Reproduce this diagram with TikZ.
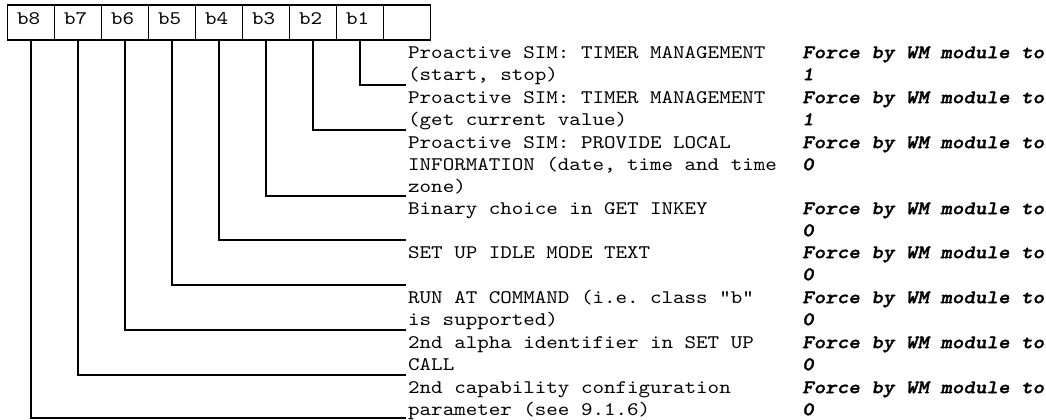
\documentclass[tikz,border=0pt]{standalone}
\usepackage{fontspec}
\setmonofont{lmmono10-regular.otf}[BoldFont=lmmonolt10-bold.otf,BoldItalicFont=lmmonolt10-boldoblique.otf,ItalicFont=lmmono10-italic.otf,BoldItalicFeatures={FakeBold=1.5},FakeStretch=1.143]
\newcommand\ascstrut{\rule{0pt}{18pt}}
\begin{document}
\begin{tikzpicture}[x=1pt,y=-1pt,
  every node/.style={font=\ttfamily\fontsize{19.2}{22}\selectfont},
  cell/.style={draw,line width=1.6pt,inner xsep=9.5pt,inner ysep=0pt,text width=28pt,align=left,text height=20pt,text depth=15pt},
  desc/.style={inner sep=0pt,align=left,anchor=north west},
  force/.style={inner sep=0pt,align=left,anchor=north west,font=\ttfamily\bfseries\itshape\fontsize{19.2}{22}\selectfont},
  conn/.style={line width=1.6pt}]
\useasboundingbox (0,0) rectangle (1046,420);
% bit cells
\foreach \n/\k in {8/0,7/1,6/2,5/3,4/4,3/5,2/6,1/7}{
  \node[cell] (c\n) at ({31+47*\k},22.5) {b\n};
}
\node[cell] (c0) at ({31+47*8},22.5) {};
% line ends
\coordinate (e1) at (406,85);
\coordinate (e2) at (406,130);
\coordinate (e3) at (406,196);
\coordinate (e4) at (406,240);
\coordinate (e5) at (406,285);
\coordinate (e6) at (406,330);
\coordinate (e7) at (406,375);
\coordinate (e8) at (406,418);
% descriptions
\node[desc] (d1) at (408,40) {\ascstrut Proactive SIM: TIMER MANAGEMENT\\(start, stop)};
\node[desc] (d2) at (408,85) {\ascstrut Proactive SIM: TIMER MANAGEMENT\\(get current value)};
\node[desc] (d3) at (408,130) {\ascstrut Proactive SIM: PROVIDE LOCAL\\INFORMATION (date, time and time\\zone)};
\node[desc] (d4) at (408,196) {\ascstrut Binary choice in GET INKEY};
\node[desc] (d5) at (408,240) {\ascstrut SET UP IDLE MODE TEXT};
\node[desc] (d6) at (408,285) {\ascstrut RUN AT COMMAND (i.e. class "b"\\is supported)};
\node[desc] (d7) at (408,330) {\ascstrut 2nd alpha identifier in SET UP\\CALL};
\node[desc] (d8) at (408,375) {\ascstrut 2nd capability configuration\\parameter (see 9.1.6)};
% force values
\node[force] (f1) at (802,40) {\ascstrut Force by WM module to\\1};
\node[force] (f2) at (802,85) {\ascstrut Force by WM module to\\1};
\node[force] (f3) at (802,130) {\ascstrut Force by WM module to\\0};
\node[force] (f4) at (802,196) {\ascstrut Force by WM module to\\0};
\node[force] (f5) at (802,240) {\ascstrut Force by WM module to\\0};
\node[force] (f6) at (802,285) {\ascstrut Force by WM module to\\0};
\node[force] (f7) at (802,330) {\ascstrut Force by WM module to\\0};
\node[force] (f8) at (802,375) {\ascstrut Force by WM module to\\0};
% connectors
\foreach \n in {1,...,8}{
  \draw[conn] (c\n.south) |- (e\n);
}
\end{tikzpicture}
\end{document}
